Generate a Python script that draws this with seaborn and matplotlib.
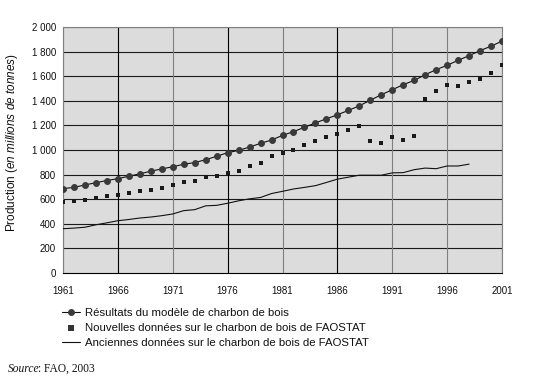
import matplotlib
matplotlib.use("Agg")
import matplotlib.pyplot as plt
import seaborn as sns
import pandas as pd

years = list(range(1961, 2002))
model = [686, 696, 716, 734, 752, 767, 787, 806, 828, 846, 864, 884, 898,
         921, 949, 978, 997, 1024, 1054, 1081, 1119, 1149, 1185,
         1220, 1254, 1286, 1322, 1359, 1405, 1449, 1490, 1531, 1566, 1612,
         1653, 1689, 1729, 1767, 1808, 1844, 1885]
new_data = [579, 587, 590, 611, 622, 638, 654, 664, 678, 691, 712, 739, 750,
            777, 790, 810, 832, 868, 892, 951, 976, 998, 1041,
            1071, 1104, 1129, 1165, 1197, 1075, 1056, 1102, 1082, 1115, 1414,
            1481, 1530, 1517, 1552, 1580, 1626, 1694]
old_years = list(range(1961, 1999))
old_data = [360, 365, 372, 392, 408, 425, 435, 447, 455, 466,
            480, 507, 515, 546, 550, 567, 587, 603, 614, 646,
            664, 683, 696, 710, 736, 763, 779, 795, 795, 795,
            814, 816, 840, 853, 848, 870, 870, 885]

xticks = [1961, 1966, 1971, 1976, 1981, 1986, 1991, 1996, 2001]
yticks = [0, 200, 400, 600, 800, 1000, 1200, 1400, 1600, 1800, 2000]
ytick_labels = ["0", "200", "400", "600", "800", "1 000", "1 200", "1 400",
                "1 600", "1 800", "2 000"]

labels = ["Résultats du modèle de charbon de bois",
          "Nouvelles données sur le charbon de bois de FAOSTAT",
          "Anciennes données sur le charbon de bois de FAOSTAT"]

sns.set_theme(style="white")
plt.rcParams["font.family"] = ["Liberation Sans", "DejaVu Sans"]
plt.rcParams["mathtext.fontset"] = "custom"
plt.rcParams["mathtext.rm"] = "Liberation Sans"
plt.rcParams["mathtext.it"] = "Liberation Sans:italic"

df_model = pd.DataFrame({"year": years, "value": model})
df_new = pd.DataFrame({"year": years, "value": new_data})
df_old = pd.DataFrame({"year": old_years, "value": old_data})

fig = plt.figure(figsize=(5.35, 3.78), dpi=100)
ax = fig.add_axes([63/535, 1-273/378, 439/535, 246/378])
ax.set_facecolor("#dcdcdc")

# grid
ax.set_yticks(yticks)
ax.set_xticks(xticks)
for y in yticks[1:]:
    ax.axhline(y, color="#1a1a1a", lw=0.8, zorder=1)
vcolors = ["#808080", "#000000", "#808080", "#000000", "#808080",
           "#000000", "#808080", "#808080", "#808080"]
for x, c in zip(xticks, vcolors):
    ax.axvline(x, color=c, lw=0.8, zorder=1)

sns.lineplot(data=df_old, x="year", y="value", ax=ax, color="#111111",
             lw=0.8, label=labels[2], zorder=3)
sns.scatterplot(data=df_new, x="year", y="value", ax=ax, color="#1a1a1a",
                marker="s", s=8, linewidth=0, label=labels[1], zorder=4)
sns.lineplot(data=df_model, x="year", y="value", ax=ax, color="#111111",
             lw=0.8, marker="o", markersize=4.2, markerfacecolor="#3a3a3a",
             markeredgecolor="#3a3a3a", label=labels[0], zorder=5)

ax.set_xlim(1961, 2001)
ax.set_ylim(0, 2000)
ax.set_yticklabels(ytick_labels)
ax.set_xticklabels([str(v) for v in xticks])
ax.tick_params(axis="both", length=0, labelsize=7, colors="#111111")
ax.tick_params(axis="y", pad=5)
ax.tick_params(axis="x", pad=9)
ax.set_xlabel("")
ax.set_ylabel(r"Production $\mathit{(en\ millions\ de\ tonnes)}$",
              fontsize=8.5, color="#111111")
ax.yaxis.set_label_coords(-0.098, 0.53)

for side in ["top", "right", "left"]:
    ax.spines[side].set_color("#808080")
    ax.spines[side].set_linewidth(0.8)
ax.spines["bottom"].set_color("#000000")
ax.spines["bottom"].set_linewidth(0.8)
for s in ax.spines.values():
    s.set_zorder(2)

handles, labs = ax.get_legend_handles_labels()
order = [labs.index(l) for l in labels]
leg = ax.legend([handles[i] for i in order], [labs[i] for i in order],
                loc="upper left", bbox_to_anchor=(62/535, 1-308/378),
                bbox_transform=fig.transFigure, frameon=False, fontsize=8.2,
                borderpad=0, borderaxespad=0, labelspacing=0.42,
                handlelength=1.6, handletextpad=0.45)
for t in leg.get_texts():
    t.set_color("#111111")
lh = leg.legend_handles
lh[1].set_sizes([24])
lh[1].set_color("#333333")

t1 = fig.text(8/535, 1-372/378, "Source", family="Liberation Serif",
              style="italic", fontsize=8.3, va="baseline", color="#111111")
ax.annotate(": FAO, 2003", xy=(1, 0), xycoords=t1, va="bottom",
            xytext=(-1.5, 0), textcoords="offset points",
            family="Liberation Serif", fontsize=8.3, color="#111111",
            annotation_clip=False)

fig.savefig("out.png", dpi=100)
